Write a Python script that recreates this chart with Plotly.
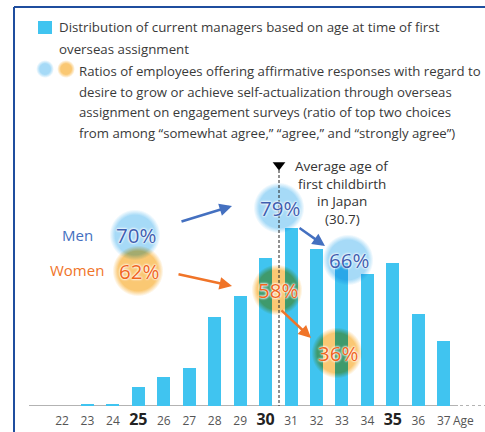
import numpy as np
import plotly.graph_objects as go

# ---------------- data ----------------
ages = [22, 23, 24, 25, 26, 27, 28, 29, 30, 31, 32, 33, 34, 35, 36, 37]
manager_distribution = [0, 2, 2, 19, 29, 38, 89, 110, 148, 178, 157, 143, 132, 143, 92, 65]
tick_labels = ["22", "23", "24", "25", "26", "27", "28", "29", "30", "31", "32", "33", "34", "35", "36", "37"]
bold_ticks = ["25", "30", "35"]
men_ratios = [70, 79, 66]
women_ratios = [62, 58, 36]
first_childbirth_age = 30.7
legend_bar_text = ["Distribution of current managers based on age at time of first",
                   "overseas assignment"]
legend_ratio_text = ["Ratios of employees offering affirmative responses with regard to",
                     "desire to grow or achieve self-actualization through overseas",
                     "assignment on engagement surveys (ratio of top two choices",
                     "from among \u201csomewhat agree,\u201d \u201cagree,\u201d and \u201cstrongly agree\u201d)"]
childbirth_text = ["Average age of", "first childbirth", "in Japan", "(30.7)"]

# ---------------- geometry helpers (pixel -> axis) ----------------
W, H, BOT = 485, 432, 26
PLOT_H = H - BOT
PX_PER_YEAR = 25.45
X0 = 22 - 62 / PX_PER_YEAR


def X(px):
    return X0 + px / PX_PER_YEAR


def Y(py):
    return PLOT_H - py


def PY(py):
    return (PLOT_H - py) / PLOT_H


FONT = "Open Sans"
BAR_C = "#40C4F0"
MEN_C = "#4470C0"
MEN_TXT = "#3F5FB0"
WOM_C = "#F07428"
WOM_TXT = "#F0661E"
BLUE_B = (166, 218, 247)
ORNG_B = (250, 200, 115)
FRAME_C = "#1F4E9E"

fig = go.Figure()
fig.add_trace(go.Bar(x=ages, y=manager_distribution, width=0.51,
                     marker=dict(color=BAR_C, line=dict(width=0)),
                     name="Distribution of current managers", showlegend=False,
                     hoverinfo="skip"))


def bubble(cx, cy, r, rgb, core=0.78):
    t = np.linspace(0, 2 * np.pi, 90)
    xs = X(cx + r * np.cos(t))
    ys = Y(cy + r * np.sin(t))
    c1 = "rgba(%d,%d,%d,1)" % rgb
    c0 = "rgba(%d,%d,%d,0)" % rgb
    fig.add_trace(go.Scatter(x=xs, y=ys, mode="lines", fill="toself",
                             line=dict(width=0, color=c0),
                             fillgradient=dict(type="radial",
                                               colorscale=[[0, c1], [core, c1], [1, c0]]),
                             showlegend=False, hoverinfo="skip"))


# bubble positions (pixels)
men_pos = [(135, 235), (279, 208), (348, 260)]
wom_pos = [(138, 271), (277, 290), (337, 353)]

# legend bubbles
bubble(45, 69, 9, BLUE_B, 0.6)
bubble(66, 69, 9, ORNG_B, 0.6)
for (cx, cy) in men_pos:
    bubble(cx, cy, 25.5, BLUE_B)
for (cx, cy) in wom_pos:
    bubble(cx, cy, 25.5, ORNG_B)

# triangle marker on top of the childbirth line
line_px = 279
fig.add_trace(go.Scatter(x=[X(line_px)], y=[Y(165)], mode="markers",
                         marker=dict(symbol="triangle-down", size=11, color="black"),
                         showlegend=False, hoverinfo="skip"))

shapes = []
# frame
shapes.append(dict(type="line", xref="paper", yref="paper", x0=14 / W, x1=14 / W,
                   y0=PY(7), y1=PY(H + 2), line=dict(color=FRAME_C, width=2)))
shapes.append(dict(type="line", xref="paper", yref="paper", x0=14 / W, x1=1.02,
                   y0=PY(7), y1=PY(7), line=dict(color=FRAME_C, width=2)))
# baseline
shapes.append(dict(type="line", xref="x", yref="y", x0=X(29), x1=X(458), y0=0, y1=0,
                   line=dict(color="#9A9A9A", width=1.5), layer="below"))
shapes.append(dict(type="line", xref="x", yref="y", x0=X(460), x1=X(485), y0=0, y1=0,
                   line=dict(color="#9A9A9A", width=1.5, dash="dot"), layer="below"))
# dotted childbirth line
shapes.append(dict(type="line", xref="x", yref="y", x0=X(line_px), x1=X(line_px),
                   y0=Y(170), y1=0, line=dict(color="#222", width=1, dash="3px,2px")))
# legend square
shapes.append(dict(type="rect", xref="x", yref="y", x0=X(38), x1=X(52), y0=Y(21), y1=Y(34),
                   fillcolor=BAR_C, line=dict(width=0)))

ann = []


def text(px, py, s, size=14, color="#333", anchor="left", shadow=None, paper=False):
    d = dict(x=X(px), y=PY(py) if paper else Y(py), xref="x", yref="paper" if paper else "y",
             text=s, showarrow=False, xanchor=anchor, yanchor="middle",
             font=dict(family=FONT, size=size, color=color))
    if shadow:
        d["font"]["shadow"] = shadow
    ann.append(d)


for i, s in enumerate(legend_bar_text):
    text(57, 27 + i * 21.5, s, size=13.3, color="#3A3A3A")
for i, s in enumerate(legend_ratio_text):
    text(77, 71 + i * 20.5, s, size=13.2, color="#3A3A3A")
for i, s in enumerate(childbirth_text):
    text(342, 166 + i * 17.7, s, size=13.5, color="#333", anchor="center")

text(77, 235, "Men", size=15, color=MEN_C, anchor="center")
text(77, 270, "Women", size=15, color=WOM_C, anchor="center")

GLOW = "0 0 2px white, 0 0 2px white, 0 0 3px white"
for (cx, cy), v in zip(men_pos, men_ratios):
    text(cx + 1, cy, "%d%%" % v, size=20.5, color=MEN_TXT, anchor="center", shadow=GLOW)
for (cx, cy), v in zip(wom_pos, women_ratios):
    text(cx + 1, cy, "%d%%" % v, size=20.5, color=WOM_TXT, anchor="center", shadow=GLOW)

text(463, 420, "Age", size=12, color="#555", anchor="center", paper=True)


def arrow(x0, y0, x1, y1, color):
    ann.append(dict(x=X(x1), y=Y(y1), ax=X(x0), ay=Y(y0), xref="x", yref="y",
                    axref="x", ayref="y", text="", showarrow=True, arrowhead=2,
                    arrowsize=1, arrowwidth=2.5, arrowcolor=color, standoff=0,
                    startstandoff=0))


arrow(180, 222, 232, 206, MEN_C)
arrow(298, 227, 325, 246, MEN_C)
arrow(177, 274, 232, 286, WOM_C)
arrow(280, 309, 311, 338, WOM_C)

ticktext = []
for t in tick_labels:
    if t in bold_ticks:
        ticktext.append("<span style='font-size:16px;color:#222'><b>%s</b></span>" % t)
    else:
        ticktext.append(t)

fig.update_layout(
    width=W, height=H, margin=dict(l=0, r=0, t=0, b=BOT),
    paper_bgcolor="white", plot_bgcolor="white",
    shapes=shapes, annotations=ann, showlegend=False,
    xaxis=dict(range=[X(0), X(W)], tickvals=ages, ticktext=ticktext, ticks="",
               showgrid=False, zeroline=False, showline=False, ticklabelstandoff=6,
               tickfont=dict(family=FONT, size=12, color="#555"), fixedrange=True),
    yaxis=dict(range=[0, PLOT_H], visible=False, fixedrange=True),
    bargap=0,
)

post = """
document.body.style.margin = '0';
document.body.style.padding = '0';
var gd = document.getElementById('{plot_id}');
function blend(){
  gd.querySelectorAll('.scatterlayer path.js-fill').forEach(function(p){ p.style.mixBlendMode = 'multiply'; });
}
blend();
if (gd.on) { gd.on('plotly_afterplot', blend); }
"""
fig.write_html("out.html", post_script=post, config={"displayModeBar": False, "staticPlot": True})
